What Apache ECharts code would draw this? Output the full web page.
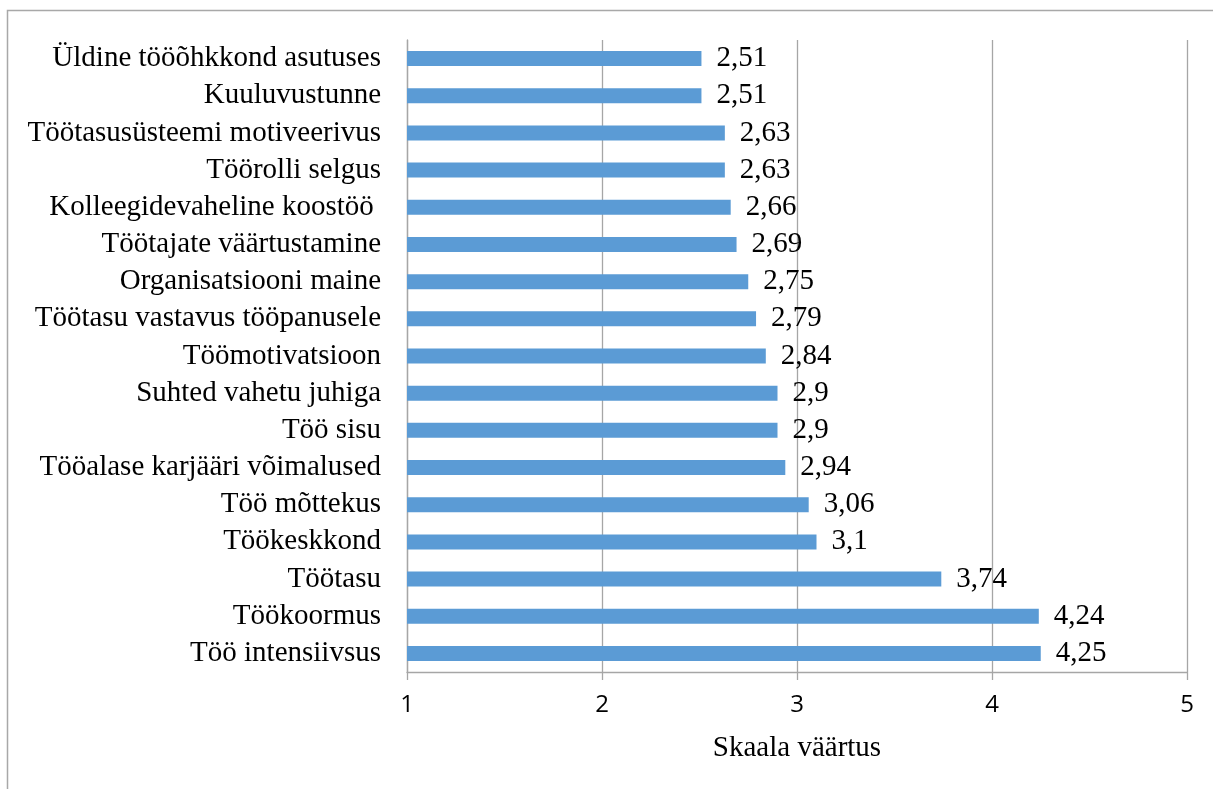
<!DOCTYPE html>
<html>
<head>
<meta charset="utf-8">
<script src="https://cdn.jsdelivr.net/npm/echarts@6/dist/echarts.min.js"></script>
<style>
  html, body { margin: 0; padding: 0; background: #ffffff; }
  #chart { width: 1213px; height: 789px; }
</style>
</head>
<body>
<div id="chart"></div>
<script>
// Survey factors, listed top to bottom
const categories = [
  'Üldine tööõhkkond asutuses',
  'Kuuluvustunne',
  'Töötasusüsteemi motiveerivus',
  'Töörolli selgus',
  'Kolleegidevaheline koostöö ',
  'Töötajate väärtustamine',
  'Organisatsiooni maine',
  'Töötasu vastavus tööpanusele',
  'Töömotivatsioon',
  'Suhted vahetu juhiga',
  'Töö sisu',
  'Tööalase karjääri võimalused',
  'Töö mõttekus',
  'Töökeskkond',
  'Töötasu',
  'Töökoormus',
  'Töö intensiivsus'
];

// Mean score on the 1–5 scale for each factor
const scores = [2.51, 2.51, 2.63, 2.63, 2.66, 2.69, 2.75, 2.79, 2.84, 2.9, 2.9, 2.94, 3.06, 3.1, 3.74, 4.24, 4.25];

// Scale ticks
const scaleTicks = [1, 2, 3, 4, 5];
const axisTitle = 'Skaala väärtus';

const serif = '"Liberation Serif", "Times New Roman", serif';
const sans = '"Open Sans", "Liberation Sans", sans-serif';
const gridGray = '#a6a6a6';

const chart = echarts.init(document.getElementById('chart'), null, { renderer: 'canvas' });

chart.setOption({
  animation: false,
  backgroundColor: '#ffffff',
  graphic: [{
    type: 'polyline',
    shape: { points: [[7.5, 789], [7.5, 10.5], [1213, 10.5]] },
    style: { stroke: '#a8a8a8', lineWidth: 1.5, fill: null },
    silent: true
  }],
  grid: { left: 407, right: 26, top: 40, bottom: 117, containLabel: false },
  xAxis: {
    type: 'value',
    min: scaleTicks[0],
    max: scaleTicks[scaleTicks.length - 1],
    interval: 1,
    name: axisTitle,
    nameLocation: 'middle',
    nameGap: 62,
    nameTextStyle: { fontFamily: serif, fontSize: 29, color: '#000' },
    axisLine: { show: true, lineStyle: { color: gridGray, width: 1.3 } },
    axisTick: { show: true, length: 8, lineStyle: { color: gridGray, width: 1.3 } },
    axisLabel: { fontFamily: sans, fontSize: 24, color: '#000', margin: 21,
      formatter: v => String(v) },
    splitLine: { show: true, lineStyle: { color: gridGray, width: 1.3 } }
  },
  yAxis: {
    type: 'category',
    data: categories,
    inverse: true,
    axisLine: { show: true, lineStyle: { color: gridGray, width: 1.3 } },
    axisTick: { show: false },
    axisLabel: { fontFamily: serif, fontSize: 29, color: '#000', margin: 26,
      interval: 0, hideOverlap: false },
    splitLine: { show: false }
  },
  series: [{
    type: 'bar',
    data: scores,
    barWidth: 15,
    clip: true,
    itemStyle: { color: '#5b9bd5' },
    label: {
      show: true,
      position: 'right',
      distance: 15,
      fontFamily: serif,
      fontSize: 29,
      color: '#000',
      formatter: p => String(p.value).replace('.', ',')
    }
  }]
});
</script>
</body>
</html>
